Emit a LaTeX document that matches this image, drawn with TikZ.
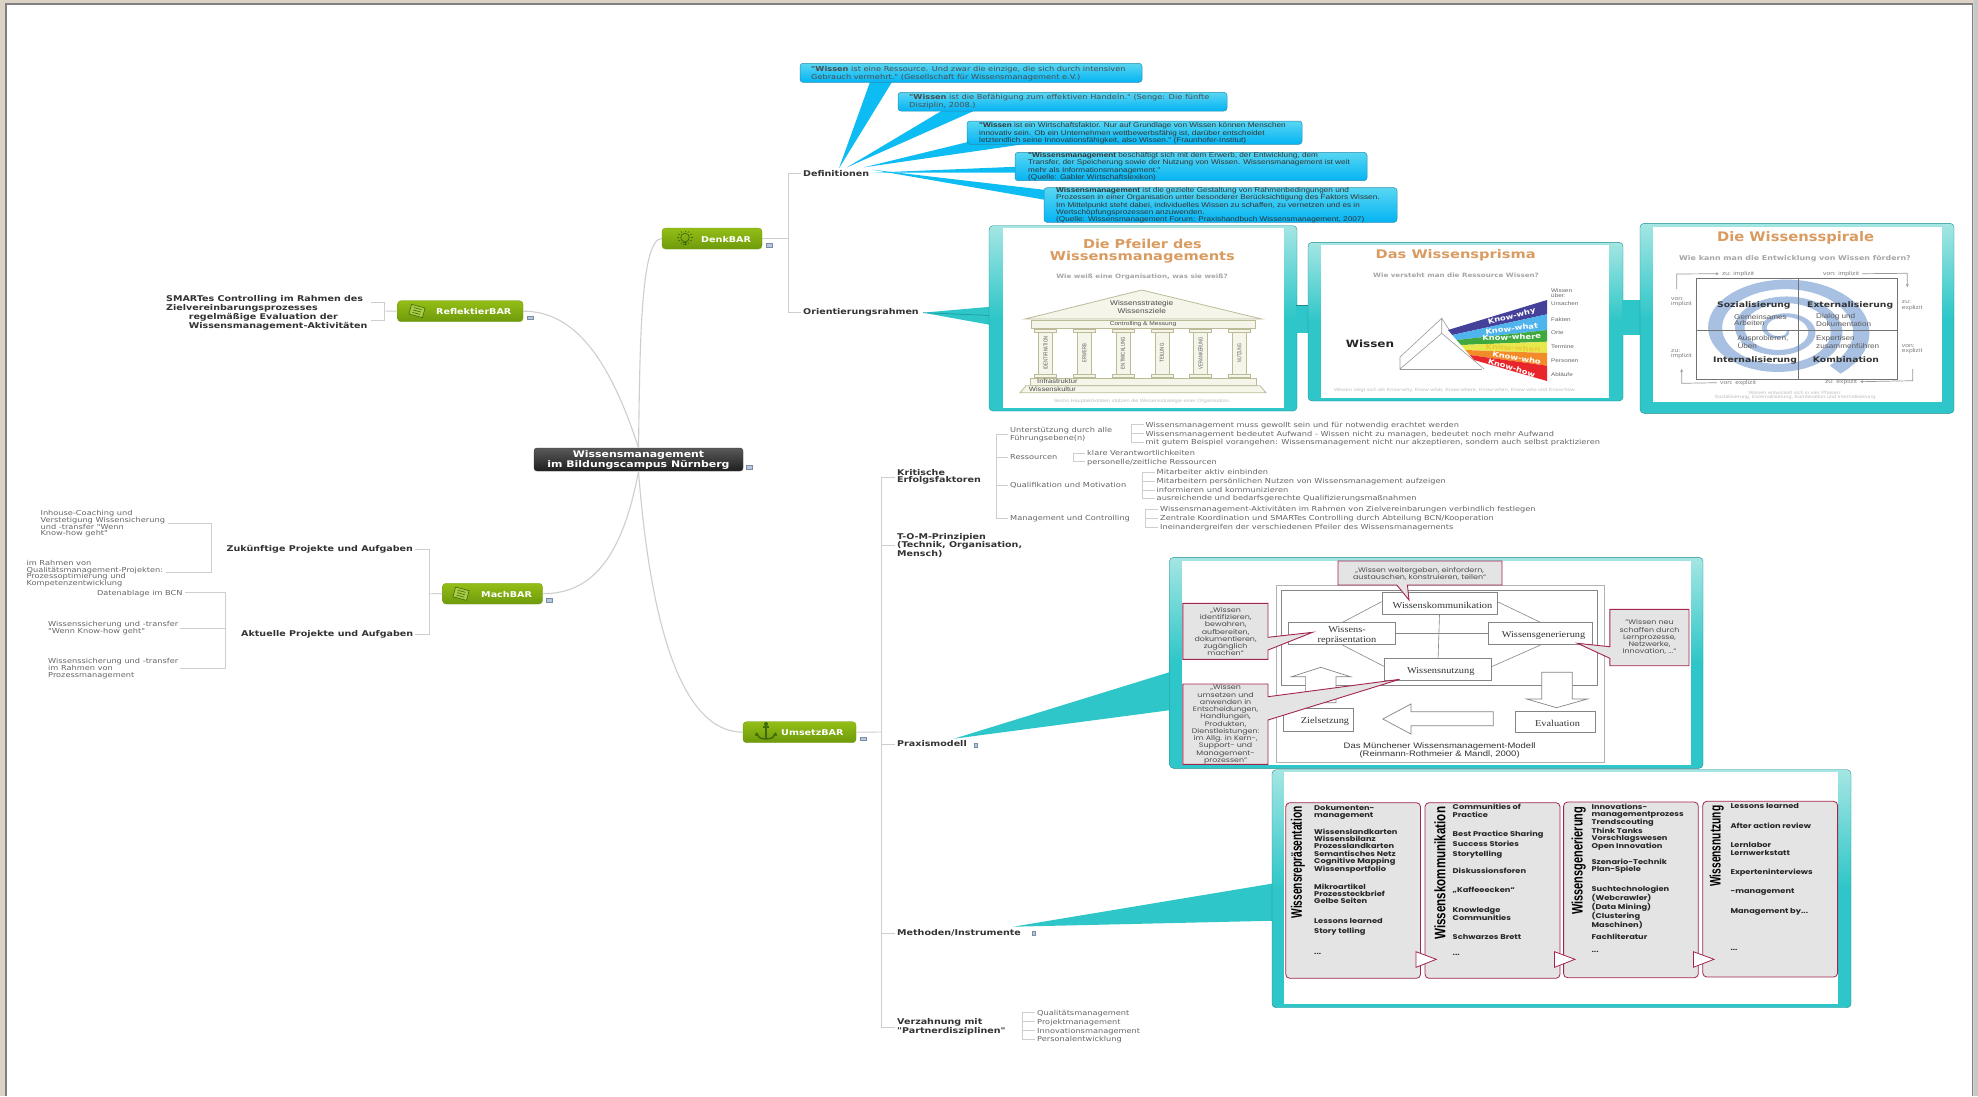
\documentclass[tikz,border=0pt]{standalone}
\usepackage{fontspec}
\usepackage{graphicx}
\usetikzlibrary{arrows.meta}
\setmainfont{DejaVu Sans}
\newfontfamily\wf[FakeStretch=1.2]{DejaVu Sans}
\newfontfamily\aw[FakeStretch=1.2]{Liberation Sans}
\newfontfamily\tw[FakeStretch=1.15]{Liberation Serif}
\newfontfamily\pw[FakeStretch=1.2]{Poppins}
\newfontfamily\ar{Liberation Sans}
\newcommand\myf[3]{#1\fontsize{#2}{#3}\selectfont}
\definecolor{treeg}{HTML}{CECECE}
\definecolor{leafc}{HTML}{666666}
\definecolor{branchc}{HTML}{333333}
\definecolor{tealm}{HTML}{2EC6C8}
\definecolor{teald}{HTML}{1E8C90}
\definecolor{crim}{HTML}{A3264E}
\definecolor{cgray}{HTML}{E4E4E4}
\definecolor{orangeT}{HTML}{D99B60}
\definecolor{subg}{HTML}{A6A6A6}
\definecolor{capg}{HTML}{BDBDBD}
\definecolor{diag}{HTML}{858585}
\definecolor{iconc}{HTML}{3F6A08}
\definecolor{grA}{HTML}{94BE16}
\definecolor{grB}{HTML}{6E9A0C}
\definecolor{noteb}{HTML}{B4C8E4}
\definecolor{bubT}{HTML}{58D6F2}
\definecolor{bubB}{HTML}{04B4F4}
\definecolor{bubM}{HTML}{0CBCF2}
\definecolor{bubD}{HTML}{2A8FB0}
\definecolor{tealT}{HTML}{A4E6E3}
\definecolor{templef}{HTML}{F5F5EA}
\definecolor{templed}{HTML}{BBBB98}
\definecolor{spiralc}{HTML}{A8C0E2}
\definecolor{frameb}{HTML}{DAD3C6}
\definecolor{band1}{HTML}{45409A}
\definecolor{band2}{HTML}{4FB4EE}
\definecolor{band3}{HTML}{3FA93F}
\definecolor{band4}{HTML}{E6E84E}
\definecolor{band5}{HTML}{F28C28}
\definecolor{band6}{HTML}{E8262C}
\tikzset{
 treeline/.style={draw=treeg,line width=.9pt,shorten >=2pt},
 curveline/.style={draw=treeg,line width=1.1pt},
 leaf/.style={inner sep=0,anchor=west,text=leafc,font=\myf{\wf}{6.85}{6.5},align=left},
 leafone/.style={leaf,text height=.72em,text depth=.2em},
 leafsmall/.style={leaf,font=\myf{\wf}{6.85}{6.7},yshift=-1pt},
 branch/.style={inner sep=0,anchor=west,text=branchc,font=\myf{\wf\bfseries}{7.95}{7.5},align=left,yshift=-1pt},
 branchone/.style={branch,text height=.72em,text depth=.2em},
 green pill/.style={rounded corners=3.5pt,top color=grA,bottom color=grB,draw=grB,line width=.3pt,inner sep=0},
 pilltext/.style={inner sep=0,text=white,font=\myf{\wf\bfseries}{8}{8},anchor=west,yshift=-1pt},
 note/.style={fill=noteb,draw=noteb!70!black,line width=.2pt,inner sep=0,minimum width=6pt,minimum height=3.6pt},
 bubble/.style={rounded corners=3pt,top color=bubT,bottom color=bubB,draw=bubD,line width=.5pt,inner sep=0},
 bubbletail/.style={fill=bubM,draw=none},
 bubtextA/.style={inner sep=0,anchor=west,align=left,text=black!70,font=\myf{\wf}{6.85}{6.5}},
 bubtextB/.style={inner sep=0,anchor=west,align=left,text=black!80,font=\myf{\aw}{6.85}{5.5},yshift=-.7pt},
 cardo/.style={rounded corners=4pt,top color=tealT,bottom color=tealm,middle color=tealm,draw=teald,line width=.4pt,inner sep=0},
 cardi/.style={fill=white,draw=none,inner sep=0},
 tealfill/.style={fill=tealm,draw=none},
 seam/.style={draw=teald,line width=.5pt},
 cardtitle/.style={inner sep=0,text=orangeT},
 cardsub/.style={inner sep=0,text=subg,font=\myf{\wf\bfseries}{5.95}{6}},
 cardcap/.style={inner sep=0,text=capg,font=\myf{\aw}{4.6}{4.6},align=center},
 templeshape/.style={fill=templef,draw=templed,line width=.8pt},
 templetext/.style={inner sep=0,text=black!70,font=\myf{\aw}{6.9}{7.4},align=center},
 prismline/.style={draw=black!40,line width=.6pt},
 sidetext/.style={inner sep=0,anchor=west,text=black!60,font=\myf{\aw}{5.3}{5.2},align=left},
 knowtext/.style={inner sep=0,text=white,font=\myf{\wf\bfseries}{7}{7}},
 spiralshape/.style={fill=spiralc,draw=none},
 matrixline/.style={draw=black!55,line width=.7pt},
 phase/.style={inner sep=0,anchor=west,text=black!80,font=\myf{\wf\bfseries}{7.7}{7}},
 phasetext/.style={inner sep=0,anchor=west,align=left,text=black!65,font=\myf{\aw}{6.8}{5.6}},
 cornertext/.style={inner sep=0,text=black!50,font=\myf{\aw}{5.6}{5.2},align=left},
 cornerarrow/.style={draw=black!40,line width=.7pt,-{Stealth[length=3pt,width=3pt]}},
 modelbox/.style={draw=diag,fill=white,line width=.7pt,inner sep=0},
 modelframe/.style={draw=black!30,line width=.5pt},
 modeltext/.style={inner sep=0,text=black!80,font=\myf{\tw}{9}{10},align=center},
 modelline/.style={draw=diag,line width=.6pt},
 modelarrow/.style={draw=diag,fill=white,line width=.7pt},
 modelcap/.style={inner sep=0,text=black!80,font=\myf{\aw}{7.9}{8.7},align=center},
 callout/.style={draw=crim,fill=cgray,line width=.9pt,line join=miter},
 calltext/.style={inner sep=0,text=black!70,font=\myf{\pw}{6.6}{7.25},align=center},
 panel/.style={draw=crim,fill=cgray,line width=.8pt,rounded corners=4pt,inner sep=0},
 paneltext/.style={inner sep=0,anchor=north west,align=left,text=black!85,font=\myf{\pw\bfseries}{6.9}{7.2}},
 paneltitle/.style={inner sep=0,text=black,rotate=90},
 panelarrow/.style={draw=crim,fill=white,line width=.8pt},
}
\newcommand\boxn[7]{\node[#2,minimum width={(#5-#3)*1pt},minimum height={(#6-#4)*1pt}] (#1) at ({(#3+#5)/2},{(#4+#6)/2}) {#7};}
\newcommand\titlefit[3]{\resizebox{#1pt}{#2pt}{\wf\bfseries #3}}
\newcommand\clipicon[2]{\begin{scope}[shift={(#1,#2)},rotate=-15]
 \draw[iconc,fill=grA!80!white,line width=.6pt] (-7,-5) rectangle (7,5);
 \draw[iconc,line width=.6pt] (-4,-2.5) -- (4,-2.5) (-4,0) -- (4,0) (-4,2.5) -- (4,2.5);
 \end{scope}}
\begin{document}
\begin{tikzpicture}[x=1pt,y=-1pt]
\useasboundingbox (0,0) rectangle (1978,1096);
% window frame
\fill[frameb] (0,0) rectangle (1978,1096);
\fill[black!50] (5,3) rectangle (1973,1096);
\fill[white] (7,5) rectangle (1972,1096);
\fill[black!22] (1973.5,0) rectangle (1978,1096);

% central node and main branches
\boxn{wm}{rounded corners=3pt,top color=black!65,bottom color=black!88,draw=black!80,inner sep=0}{534}{448}{743}{471}{}
\node[inner sep=0,text=white,font=\myf{\wf\bfseries}{9.1}{8},align=center,yshift=-1pt] (wmt) at (wm.center) {Wissensmanagement\\im Bildungscampus Nürnberg};
\boxn{denk}{green pill}{662}{228}{762}{249}{}
\boxn{refl}{green pill}{397.5}{300.7}{523}{321.7}{}
\boxn{mach}{green pill}{442.5}{583.3}{542.5}{604}{}
\boxn{umse}{green pill}{743}{721.7}{856}{742.7}{}
\node[pilltext] (denkt) at (701,238.5) {DenkBAR};
\node[pilltext] (reflt) at (436,311) {ReflektierBAR};
\node[pilltext] (macht) at (481,593.7) {MachBAR};
\node[pilltext] (umset) at (781,732) {UmsetzBAR};
\draw[curveline] (wm.north) .. controls (640,350) and (640,238.5) .. (denk.west);
\draw[curveline] (refl.east) .. controls (575,311) and (610,360) .. (wm.north);
\draw[curveline] (mach.east) .. controls (590,594) and (622,560) .. (wm.south);
\draw[curveline] (wm.south) .. controls (650,620) and (680,732) .. (umse.west);
% notes
\node[note] (n0) at (749,467) {};
\node[note] (n1) at (769,245) {};
\node[note] (n2) at (530,317.7) {};
\node[note] (n3) at (549,600) {};
\node[note] (n4) at (863,738.7) {};
\node[note,minimum width=3pt,minimum height=4pt] (n5) at (976,744.7) {};
\node[note,minimum width=3pt,minimum height=4pt] (n6) at (1033.6,933.3) {};
% icons
\begin{scope}[shift={(685,238.5)}]
 \draw[iconc,line width=.7pt] (0,-1) circle[radius=4.3];
 \draw[iconc,line width=.8pt] (-2,3.5) -- (2,3.5) (-1.6,5.5) -- (1.6,5.5);
 \foreach \a in {0,30,...,330} {\draw[iconc,line width=.6pt] ({5.6*cos(\a)},{-1+5.6*sin(\a)}) -- ({8*cos(\a)},{-1+7*sin(\a)});}
\end{scope}
\clipicon{417}{311}
\clipicon{461}{593.7}
\begin{scope}[shift={(766,732)},iconc]
 \draw[line width=1.4pt] (0,-7) -- (0,7);
 \draw[line width=1.2pt] (-3,-5) -- (3,-5);
 \draw[line width=1.4pt] (-9,2) .. controls (-7,7) and (-3,7) .. (0,7) .. controls (3,7) and (7,7) .. (9,2);
 \fill (0,-8) circle[radius=2];
 \fill (-10,0) -- (-7,3) -- (-11,4) -- cycle (10,0) -- (7,3) -- (11,4) -- cycle;
\end{scope}

% DenkBAR subtree
\coordinate (dj) at (788,238.5);
\node[branchone] (defi) at (803,172.7) {Definitionen};
\node[branchone] (orie) at (803,311) {Orientierungsrahmen};
\draw[treeline,shorten >=0pt] (denk.east) -- (dj);
\draw[treeline] (dj) |- (defi.west);
\draw[treeline] (dj) |- (orie.west);

% bubble tails
\coordinate (dtip) at (872,172.7);
\fill[bubbletail] (839,168.3) -- (870,82) -- (892,82) -- cycle;
\fill[bubbletail] (847,167.3) -- (943,110) -- (976,110) -- cycle;
\fill[bubbletail] (864,167.3) -- (970,141.5) -- (1025,144) -- cycle;
\fill[bubbletail] (dtip) -- (1017,166.7) -- (1017,172.7) -- cycle;
\fill[bubbletail] ([yshift=3pt]dtip) -- (1046,190) -- (1046,200) -- cycle;
% bubbles
\boxn{bu1}{bubble}{800}{63.3}{1142}{82.3}{}
\boxn{bu2}{bubble}{898}{92.3}{1227}{111}{}
\boxn{bu3}{bubble}{967}{121}{1302}{144.3}{}
\boxn{bu4}{bubble}{1015}{152.3}{1367}{180.7}{}
\boxn{bu5}{bubble}{1044}{187.7}{1397}{222.3}{}
\node[bubtextA] (bt1) at (811,73.3) {\textbf{"Wissen} ist eine Ressource. Und zwar die einzige, die sich durch intensiven\\Gebrauch vermehrt." (Gesellschaft für Wissensmanagement e.V.)};
\node[bubtextA] (bt2) at (909,101.8) {\textbf{"Wissen} ist die Befähigung zum effektiven Handeln." (Senge: Die fünfte\\Disziplin, 2008.)};
\node[bubtextB,font=\myf{\aw}{6.85}{6}] (bt3) at (979,132.7) {\textbf{"Wissen} ist ein Wirtschaftsfaktor. Nur auf Grundlage von Wissen können Menschen\\innovativ sein. Ob ein Unternehmen wettbewerbsfähig ist, darüber entscheidet\\letztendlich seine Innovationsfähigkeit, also Wissen." (Fraunhofer-Institut)};
\node[bubtextB] (bt4) at (1028,166) {\textbf{"Wissensmanagement} beschäftigt sich mit dem Erwerb, der Entwicklung, dem\\Transfer, der Speicherung sowie der Nutzung von Wissen. Wissensmanagement ist weit\\mehr als Informationsmanagement."\\(Quelle: Gabler Wirtschaftslexikon)};
\node[bubtextB] (bt5) at (1056,204.7) {\textbf{Wissensmanagement} ist die gezielte Gestaltung von Rahmenbedingungen und\\Prozessen in einer Organisation unter besonderer Berücksichtigung des Faktors Wissen.\\Im Mittelpunkt steht dabei, individuelles Wissen zu schaffen, zu vernetzen und es in\\Wertschöpfungsprozessen anzuwenden.\\(Quelle: Wissensmanagement Forum: Praxishandbuch Wissensmanagement, 2007)};

% card 1 - Pfeiler
\coordinate (otip) at (923,312.7);
\fill[tealfill] (otip) -- (991,306.7) -- (991,325) -- cycle;
\draw[seam] (otip) -- (1003,316);
\boxn{ca1}{cardo}{989}{225.7}{1297}{411}{}
\boxn{ci1}{cardi}{1002.7}{228}{1284}{408}{}
\node[cardtitle] (ca1t) at (1142.4,244) {\titlefit{118.7}{9.3}{Die Pfeiler des}};
\node[cardtitle] (ca1v) at (1142.4,257) {\titlefit{185}{9.3}{Wissensmanagements}};
\node[cardsub] (ca1s) at (1142,276.7) {Wie weiß eine Organisation, was sie weiß?};
\draw[templeshape] (1031.7,320) rectangle (1255,328.3);
\draw[templeshape] (1141.7,290) -- (1261.7,319) -- (1025,319) -- cycle;
\node[templetext] (ca1r) at (1141.7,307) {Wissensstrategie\\Wissensziele};
\node[templetext,font=\myf{\aw}{5.5}{6}] (ca1c) at (1143,324.2) {Controlling \& Messung};
\foreach \cx/\lab/\ww [count=\ci] in {1045.7/IDENTIFIKATION/33,1084.3/ERWERB/18,1123/ENTWICKLUNG/32,1162/TEILUNG/19,1200.7/VERANKERUNG/32,1239.3/NUTZUNG/18}{
 \draw[templeshape] (\cx-11,329.5) rectangle (\cx+11,332);
 \draw[templeshape] (\cx-7,332) rectangle (\cx+7,374.5);
 \draw[templeshape] (\cx-11,374.5) rectangle (\cx+11,377);
 \node[inner sep=0,rotate=90,text=black!65] (pil\ci) at (\cx,353) {\resizebox{\ww pt}{4pt}{\ar\lab}};
}
\draw[templeshape] (1030,378) rectangle (1256.7,385);
\draw[templeshape] (1026,385.7) -- (1260,385.7) -- (1266,392.7) -- (1020,392.7) -- cycle;
\node[templetext,anchor=west,font=\myf{\aw}{6.3}{6}] (ca1i) at (1037,381.6) {Infrastruktur};
\node[templetext,anchor=west,font=\myf{\aw}{6.3}{6}] (ca1k) at (1028.7,389.2) {Wissenskultur};
\node[cardcap] (ca1u) at (1142,401.7) {Sechs Hauptaktivitäten stützen die Wissensstrategie einer Organisation.};

% card 2 - Prisma
\boxn{cn12}{tealfill,inner sep=0}{1296}{305.7}{1309}{333.3}{}
\draw[seam] (cn12.north west) -- (cn12.north east);
\boxn{ca2}{cardo}{1308}{242.3}{1623}{401}{}
\boxn{ci2}{cardi}{1321}{245}{1609}{397.7}{}
\node[cardtitle] (ca2t) at (1455.7,255.7) {\titlefit{160}{9}{Das Wissensprisma}};
\node[cardsub] (ca2s) at (1456,275.7) {Wie versteht man die Ressource Wissen?};
\node[inner sep=0,text=black!85,font=\myf{\wf\bfseries}{10}{9}] (ca2w) at (1370,343.3) {Wissen};
\draw[prismline] (1441.7,318.3) -- (1400,357) -- (1400,369) -- (1441.7,333.3) -- cycle;
\draw[prismline] (1400,369) -- (1482,369);
\draw[prismline] (1441.7,333.3) -- (1484,369);
\draw[prismline] (1441.7,318.3) -- (1450,331);
\fill[band1] (1448,330) -- (1547,300) -- (1547,314.3) -- (1452.3,335) -- cycle;
\fill[band2] (1452.3,335) -- (1547,314.3) -- (1547,330) -- (1456.7,340) -- cycle;
\fill[band3] (1456.7,340) -- (1547,330) -- (1547,341.7) -- (1461,345) -- cycle;
\fill[band4] (1461,345) -- (1547,341.7) -- (1547,353) -- (1465.3,350) -- cycle;
\fill[band5] (1465.3,350) -- (1547,353) -- (1547,365.7) -- (1469.7,355) -- cycle;
\fill[band6] (1469.7,355) -- (1547,365.7) -- (1547,381) -- (1474,360) -- cycle;
\node[knowtext,rotate=14] (kn1) at (1511.7,316.7) {Know-why};
\node[knowtext,rotate=7] (kn2) at (1511.7,328.5) {Know-what};
\node[knowtext,rotate=2] (kn3) at (1511.7,337.2) {Know-where};
\node[knowtext,rotate=-3,text=band4!70!orange] (kn4) at (1513,348) {Know-when};
\node[knowtext,rotate=-10] (kn5) at (1516.7,357.7) {Know-who};
\node[knowtext,rotate=-17] (kn6) at (1511.7,368) {Know-how};
\node[sidetext] (pr0) at (1551,293.2) {Wissen\\über:};
\node[sidetext] (pr1) at (1551,303.7) {Ursachen};
\node[sidetext] (pr2) at (1551,319.3) {Fakten};
\node[sidetext] (pr3) at (1551,332.3) {Orte};
\node[sidetext] (pr4) at (1551,346.7) {Termine};
\node[sidetext] (pr5) at (1551,360.7) {Personen};
\node[sidetext] (pr6) at (1551,374.7) {Abläufe};
\node[cardcap] (ca2u) at (1455,390.7) {Wissen zeigt sich als Know-why, Know-what, Know-where, Know-when, Know-who und Know-how.};

% card 3 - Spirale
\boxn{cn23}{tealfill,inner sep=0}{1622}{300}{1641}{335}{}
\boxn{ca3}{cardo}{1640}{223.3}{1954}{413.3}{}
\boxn{ci3}{cardi}{1652.7}{226.7}{1941.7}{402.3}{}
\node[cardtitle] (ca3t) at (1795.6,238.3) {\titlefit{157}{10}{Die Wissensspirale}};
\node[cardsub,font=\myf{\wf\bfseries}{6.6}{6}] (ca3s) at (1795,259) {Wie kann man die Entwicklung von Wissen fördern?};
\fill[spiralshape] plot[domain=0:1130,samples=170,variable=\t] ({1782+1.6*(3+\t/360*15.5+(0.8+\t/1130*4.5))*cos(\t)},{330+(3+\t/360*15.5+(0.8+\t/1130*4.5))*sin(\t)}) -- plot[domain=1130:0,samples=170,variable=\t] ({1782+1.6*(3+\t/360*15.5-(0.8+\t/1130*4.5))*cos(\t)},{330+(3+\t/360*15.5-(0.8+\t/1130*4.5))*sin(\t)}) -- cycle;
\draw[matrixline] (1696,278.3) rectangle (1897.3,379);
\draw[matrixline] (1798.3,278.3) -- (1798.3,379);
\draw[matrixline] (1696,330.7) -- (1897.3,330.7);
\node[phase] (ph1) at (1717,305) {Sozialisierung};
\node[phase] (ph2) at (1807,305) {Externalisierung};
\node[phase] (ph3) at (1713,360) {Internalisierung};
\node[phase] (ph4) at (1812.7,359.3) {Kombination};
\node[phasetext] (pt1) at (1734,320) {Gemeinsames\\Arbeiten};
\node[phasetext] (pt2) at (1816,320) {Dialog und\\Dokumentation};
\node[phasetext] (pt3) at (1737.3,342) {Ausprobieren,\\Üben};
\node[phasetext] (pt4) at (1816,342) {Expertisen\\zusammenführen};
\node[cornertext] (co1) at (1738,273.7) {zu: implizit};
\node[cornertext] (co2) at (1841,273.7) {von: implizit};
\node[cornertext] (co3) at (1738,382.7) {von: explizit};
\node[cornertext] (co4) at (1841,381.7) {zu: explizit};
\node[cornertext,anchor=west] (co5) at (1671,302) {von:\\implizit};
\node[cornertext,anchor=west] (co6) at (1901.7,305.6) {zu:\\explizit};
\node[cornertext,anchor=west] (co7) at (1671,354.4) {zu:\\implizit};
\node[cornertext,anchor=west] (co8) at (1901.7,349.4) {von:\\explizit};
\draw[cornerarrow] (1676.7,289) -- (1676.7,274) -- ([xshift=-3pt]co1.west);
\draw[cornerarrow] ([xshift=3pt]co2.east) -- (1907.3,273.3) -- (1907.3,287);
\draw[cornerarrow] (1912.7,369) -- (1912.7,380.7) -- ([xshift=3pt]co4.east);
\draw[cornerarrow] ([xshift=-3pt]co3.west) -- (1681.7,383.3) -- (1681.7,369);
\node[cardcap] (ca3u) at (1795,395.5) {Wissen entwickelt sich in vier Phasen:\\Sozialisierung, Externalisierung, Kombination und Internalisierung};

% left subtrees
\coordinate (rj) at (384,311);
\node[branch] (rf1) at (166,302.5) {SMARTes Controlling im Rahmen des\\Zielvereinbarungsprozesses};
\node[branch] (rf2) at (188.6,320.4) {regelmäßige Evaluation der\\Wissensmanagement-Aktivitäten};
\coordinate (rf1e) at (371,302.3);
\coordinate (rf2e) at (371,320.7);
\draw[treeline,shorten >=0pt] (refl.west) -- (rj);
\draw[treeline,shorten >=0pt] (rj) |- (rf1e);
\draw[treeline,shorten >=0pt] (rj) |- (rf2e);

\coordinate (mj) at (429,593.7);
\node[branchone] (zu) at (226.4,548) {Zukünftige Projekte und Aufgaben};
\node[branchone] (ak) at (241,633.3) {Aktuelle Projekte und Aufgaben};
\draw[treeline,shorten >=0pt] (mach.west) -- (mj);
\draw[treeline] (mj) |- (zu.east);
\draw[treeline] (mj) |- (ak.east);
\node[leafsmall] (zu1) at (40.4,522.8) {Inhouse-Coaching und\\Verstetigung Wissensicherung\\und -transfer "Wenn\\Know-how geht"};
\node[leafsmall] (zu2) at (26.4,572.7) {im Rahmen von\\Qualitätsmanagement-Projekten:\\Prozessoptimierung und\\Kompetenzentwicklung};
\draw[treeline,shorten >=0pt] (168,523.3) -- (211,523.3) -- (211,572.7) -- (166.4,572.7);
\coordinate (aj) at (225,630);
\node[leafsmall,text height=.72em,text depth=.2em,yshift=1pt] (ak1) at (96.8,592.7) {Datenablage im BCN};
\node[leafsmall] (ak2) at (48,627) {Wissenssicherung und -transfer\\"Wenn Know-how geht"};
\node[leafsmall] (ak3) at (48,667.6) {Wissenssicherung und -transfer\\im Rahmen von\\Prozessmanagement};
\draw[treeline] (aj) |- (ak1.east);
\draw[treeline] (aj) |- (ak2.east);
\draw[treeline] (aj) |- (ak3.east);

% UmsetzBAR subtree
\coordinate (uj) at (881.4,732);
\draw[treeline,shorten >=0pt] (umse.east) -- (uj);
\node[branch] (kr) at (897,476) {Kritische\\Erfolgsfaktoren};
\node[branch] (to) at (897,544.3) {T-O-M-Prinzipien\\(Technik, Organisation,\\Mensch)};
\node[branchone] (pm) at (897,743.3) {Praxismodell};
\node[branchone] (me) at (897,932) {Methoden/Instrumente};
\node[branch] (ve) at (897,1026) {Verzahnung mit\\"Partnerdisziplinen"};
\foreach \n in {kr,to,pm,me,ve}{\draw[treeline] (uj) |- (\n.west);}

\coordinate (kj) at (996,476);
\node[leaf,yshift=-1pt] (k1) at (1010,433.5) {Unterstützung durch alle\\Führungsebene(n)};
\node[leafone] (k2) at (1010,457.3) {Ressourcen};
\node[leafone] (k3) at (1010,485.3) {Qualifikation und Motivation};
\node[leafone] (k4) at (1010,518.3) {Management und Controlling};
\foreach \n in {k1,k2,k3,k4}{\draw[treeline] (kj) |- (\n.west);}
\coordinate (g1) at (1131,433.5);
\node[leafone] (g1a) at (1145.5,424.7) {Wissensmanagement muss gewollt sein und für notwendig erachtet werden};
\node[leafone] (g1b) at (1145.5,433.7) {Wissensmanagement bedeutet Aufwand - Wissen nicht zu managen, bedeutet noch mehr Aufwand};
\node[leafone] (g1c) at (1145.5,442.3) {mit gutem Beispiel vorangehen: Wissensmanagement nicht nur akzeptieren, sondern auch selbst praktizieren};
\foreach \n in {g1a,g1b,g1c}{\draw[treeline] (g1) |- (\n.west);}
\coordinate (g2) at (1073,457.3);
\node[leafone] (g2a) at (1087,453) {klare Verantwortlichkeiten};
\node[leafone] (g2b) at (1087,461.7) {personelle/zeitliche Ressourcen};
\foreach \n in {g2a,g2b}{\draw[treeline] (g2) |- (\n.west);}
\coordinate (g3) at (1142,485.3);
\node[leafone] (g3a) at (1156.5,472.3) {Mitarbeiter aktiv einbinden};
\node[leafone] (g3b) at (1156.5,481) {Mitarbeitern persönlichen Nutzen von Wissensmanagement aufzeigen};
\node[leafone] (g3c) at (1156.5,490) {informieren und kommunizieren};
\node[leafone] (g3d) at (1156.5,498.3) {ausreichende und bedarfsgerechte Qualifizierungsmaßnahmen};
\foreach \n in {g3a,g3b,g3c,g3d}{\draw[treeline] (g3) |- (\n.west);}
\coordinate (g4) at (1145.5,518.3);
\node[leafone] (g4a) at (1160,509.3) {Wissensmanagement-Aktivitäten im Rahmen von Zielvereinbarungen verbindlich festlegen};
\node[leafone] (g4b) at (1160,518) {Zentrale Koordination und SMARTes Controlling durch Abteilung BCN/Kooperation};
\node[leafone] (g4c) at (1160,527) {Ineinandergreifen der verschiedenen Pfeiler des Wissensmanagements};
\foreach \n in {g4a,g4b,g4c}{\draw[treeline] (g4) |- (\n.west);}
\coordinate (vj) at (1022.5,1026);
\node[leafone] (v1) at (1037,1012.7) {Qualitätsmanagement};
\node[leafone] (v2) at (1037,1021.7) {Projektmanagement};
\node[leafone] (v3) at (1037,1030.7) {Innovationsmanagement};
\node[leafone] (v4) at (1037,1039.3) {Personalentwicklung};
\foreach \n in {v1,v2,v3,v4}{\draw[treeline] (vj) |- (\n.west);}

% card 4 - Praxismodell
\fill[tealfill] (954,738.7) -- (1171,671.7) -- (1171,710) -- cycle;
\boxn{ca4}{cardo}{1169.5}{557.3}{1703}{768.3}{}
\boxn{ci4}{cardi}{1181.8}{560.7}{1690.5}{765}{}
\draw[modelframe] (1276.5,585.7) rectangle (1604,762.3);
\draw[modelline,line width=.7pt] (1281.8,590.3) rectangle (1597,685);
\boxn{mk}{modelbox}{1382}{592.3}{1497}{614}{}
\boxn{mr}{modelbox}{1288.8}{622.7}{1395.8}{644.7}{}
\boxn{mg}{modelbox}{1488.8}{622.7}{1592.6}{644.7}{}
\boxn{mn}{modelbox}{1384.6}{658.3}{1491.6}{680.7}{}
\draw[modelline] (mk.west) ++(0,-1.5) -- ([xshift=54pt]mr.north west);
\draw[modelline] (mk.east) ++(0,-1.5) -- ([xshift=52pt]mg.north west);
\draw[modelline] (mk.south) -- (mn.north);
\draw[modelline] (mr.east) -- (mg.west);
\draw[modelline] ([xshift=54pt]mr.south west) -- ([yshift=3pt]mn.west);
\draw[modelline] ([xshift=52pt]mg.south west) -- ([yshift=3pt]mn.east);
\node[modeltext] (mkt) at (1442.5,605) {Wissenskommunikation};
\node[modeltext] (mrt) at (1347,635) {Wissens-\\repräsentation};
\node[modeltext] (mgt) at (1543.5,635.3) {Wissensgenerierung};
\node[modeltext] (mnt) at (1440.7,671) {Wissensnutzung};
\boxn{mz}{modelbox}{1283.5}{708.3}{1353}{731.7}{}
\boxn{me2}{modelbox}{1515.8}{711}{1595.8}{732.3}{}
\node[modeltext] (mzt) at (1325,721.3) {Zielsetzung};
\node[modeltext] (met) at (1557.5,723.3) {Evaluation};
\draw[modelarrow] (1320.7,667.3) -- (1350.5,676.7) -- (1336,676.7) -- (1336,702.7) -- (1305.6,702.7) -- (1305.6,676.7) -- (1291.6,676.7) -- cycle;
\draw[modelarrow] (1541.8,672.3) -- (1572.3,672.3) -- (1572.3,699) -- (1587.4,699) -- (1556.5,707.7) -- (1526.7,699) -- (1541.8,699) -- cycle;
\draw[modelarrow] (1382.8,719) -- (1410.9,704) -- (1410.9,711.7) -- (1493.3,711.7) -- (1493.3,725.7) -- (1410.9,725.7) -- (1410.9,734) -- cycle;
\node[modelcap] (mc) at (1439.6,750.3) {Das Münchener Wissensmanagement-Modell\\(Reinmann-Rothmeier \& Mandl, 2000)};
% callouts
\draw[callout] (1338,561) -- (1502,561) -- (1502,585) -- (1407.4,585) -- (1409,600) -- (1396.8,585) -- (1338,585) -- cycle;
\node[calltext] (cl1) at (1419.6,573.6) {„Wissen weitergeben, einfordern,\\austauschen, konstruieren, teilen“};
\draw[callout] (1182.8,603.3) -- (1268,603.3) -- (1268,637.3) -- (1312.6,632.3) -- (1268,650) -- (1268,659.3) -- (1182.8,659.3) -- cycle;
\node[calltext] (cl2) at (1225.6,631.6) {„Wissen\\identifizieren,\\bewahren,\\aufbereiten,\\dokumentieren,\\zugänglich\\machen“};
\draw[callout] (1609.8,609.3) -- (1689,609.3) -- (1689,665.7) -- (1609.8,665.7) -- (1609.8,658.3) -- (1577.5,643.3) -- (1609.8,646.7) -- cycle;
\node[calltext] (cl3) at (1649.5,637.4) {“Wissen neu\\schaffen durch\\Lernprozesse,\\Netzwerke,\\Innovation, ...“};
\draw[callout] (1182.8,684) -- (1268,684) -- (1268,696.7) -- (1399.6,679.3) -- (1268,720) -- (1268,764.3) -- (1182.8,764.3) -- cycle;
\node[calltext] (cl4) at (1225.6,724.4) {„Wissen\\umsetzen und\\anwenden in\\Entscheidungen,\\Handlungen,\\Produkten,\\Dienstleistungen:\\im Allg. in Kern-,\\Support- und\\Management-\\prozessen“};

% card 5 - Methoden
\fill[tealfill] (1013,926.7) -- (1274,883.3) -- (1274,920.7) -- cycle;
\boxn{ca5}{cardo}{1272}{769.7}{1851}{1007.7}{}
\boxn{ci5}{cardi}{1284}{772.3}{1838}{1004}{}
\boxn{pa1}{panel}{1285.8}{802.7}{1420.5}{978.3}{}
\boxn{pa2}{panel}{1425}{802.7}{1560}{978.3}{}
\boxn{pa3}{panel}{1563.6}{802}{1698.3}{977.7}{}
\boxn{pa4}{panel}{1702.8}{801.3}{1837.6}{977}{}
\node[paneltitle] (pt1a) at (1298,862.5) {\resizebox{112pt}{11pt}{\ar\bfseries Wissensrepräsentation}};
\node[paneltitle] (pt2a) at (1440,873.3) {\resizebox{133pt}{11pt}{\ar\bfseries Wissenskommunikation}};
\node[paneltitle] (pt3a) at (1578.6,860.8) {\resizebox{108pt}{11pt}{\ar\bfseries Wissensgenerierung}};
\node[paneltitle] (pt4a) at (1716.7,846.2) {\resizebox{81pt}{11pt}{\ar\bfseries Wissensnutzung}};
\foreach \ax/\ay/\lab [count=\ti] in {%
1314/805.2/{Dokumenten-\\management},
1314/828.8/{Wissenslandkarten\\Wissensbilanz\\Prozesslandkarten\\Semantisches Netz\\Cognitive Mapping\\Wissensportfolio},
1314/883.8/{Mikroartikel\\Prozessteckbrief\\Gelbe Seiten},
1314/917.8/{Lessons learned},
1314/927.5/{Story telling},
1314/952.8/{...},
1452.5/804.2/{Communities of\\Practice},
1452.5/831.2/{Best Practice Sharing},
1452.5/840.8/{Success Stories},
1452.5/850.8/{Storytelling},
1452.5/867.5/{Diskussionsforen},
1452.5/887.2/{„Kaffeeecken“},
1452.5/906.8/{Knowledge\\Communities},
1452.5/933.8/{Schwarzes Brett},
1452.5/954.2/{...},
1591.4/803.5/{Innovations-\\managementprozess\\Trendscouting\\Think Tanks\\Vorschlagswesen\\Open Innovation},
1591.4/858.8/{Szenario-Technik\\Plan-Spiele},
1591.4/885.5/{Suchtechnologien\\(Webcrawler)\\(Data Mining)\\(Clustering\\Maschinen)},
1591.4/933.5/{Fachliteratur},
1591.4/951.5/{...},
1730.3/803.2/{Lessons learned},
1730.3/822.8/{After action review},
1730.3/842.5/{Lernlabor\\Lernwerkstatt},
1730.3/869.2/{Experteninterviews},
1730.3/888.8/{-management},
1730.3/908.5/{Management by...},
1730.3/949.2/{...}}{
 \node[paneltext] (tx\ti) at (\ax,\ay) {\lab};
}
\draw[panelarrow] (1416,951.7) -- (1436.3,959.3) -- (1416,967.3) -- cycle;
\draw[panelarrow] (1554.5,951.7) -- (1575,959.3) -- (1554.5,967.3) -- cycle;
\draw[panelarrow] (1693.4,951.7) -- (1714,959.3) -- (1693.4,967.3) -- cycle;
\end{tikzpicture}
\end{document}
